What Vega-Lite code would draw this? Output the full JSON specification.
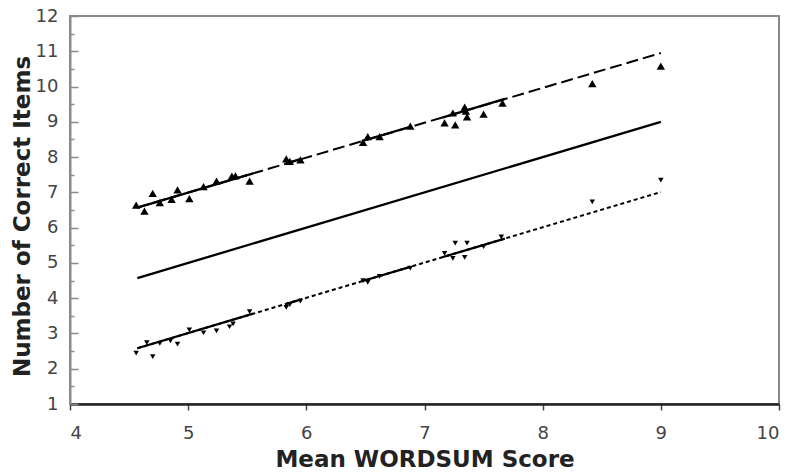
{
  "$schema": "https://vega.github.io/schema/vega-lite/v6.json",
  "width": 709,
  "height": 388,
  "autosize": {"type": "none"},
  "padding": {"left": 70, "top": 16, "right": 9, "bottom": 69},
  "background": "white",
  "config": {
    "view": {"stroke": "#8a8a8a", "strokeWidth": 2},
    "axis": {"labelFont": "DejaVu Sans", "titleFont": "DejaVu Sans", "grid": false}
  },
  "datasets": {
    "lines": [
      {"line": "upper", "part": "full", "seg": "uf", "x": 4.57, "y": 6.57},
      {"line": "upper", "part": "full", "seg": "uf", "x": 9.0, "y": 10.95},
      {"line": "lower", "part": "full", "seg": "lf", "x": 4.57, "y": 2.58},
      {"line": "lower", "part": "full", "seg": "lf", "x": 9.0, "y": 7.01},
      {"line": "middle", "part": "span", "seg": "m", "x": 4.57, "y": 4.57},
      {"line": "middle", "part": "span", "seg": "m", "x": 9.0, "y": 9.0},
      {"line": "upper", "part": "span", "seg": "u1", "x": 4.57, "y": 6.57},
      {"line": "upper", "part": "span", "seg": "u1", "x": 5.55, "y": 7.54},
      {"line": "upper", "part": "span", "seg": "u2", "x": 5.83, "y": 7.82},
      {"line": "upper", "part": "span", "seg": "u2", "x": 5.95, "y": 7.94},
      {"line": "upper", "part": "span", "seg": "u3", "x": 6.47, "y": 8.45},
      {"line": "upper", "part": "span", "seg": "u3", "x": 6.88, "y": 8.86},
      {"line": "upper", "part": "span", "seg": "u4", "x": 7.15, "y": 9.12},
      {"line": "upper", "part": "span", "seg": "u4", "x": 7.68, "y": 9.65},
      {"line": "lower", "part": "span", "seg": "l1", "x": 4.57, "y": 2.58},
      {"line": "lower", "part": "span", "seg": "l1", "x": 5.55, "y": 3.56},
      {"line": "lower", "part": "span", "seg": "l2", "x": 5.83, "y": 3.84},
      {"line": "lower", "part": "span", "seg": "l2", "x": 5.95, "y": 3.96},
      {"line": "lower", "part": "span", "seg": "l3", "x": 6.47, "y": 4.48},
      {"line": "lower", "part": "span", "seg": "l3", "x": 6.88, "y": 4.89},
      {"line": "lower", "part": "span", "seg": "l4", "x": 7.15, "y": 5.16},
      {"line": "lower", "part": "span", "seg": "l4", "x": 7.68, "y": 5.69}
    ],
    "points": [
      {"group": "upper", "x": 4.56, "y": 6.64},
      {"group": "upper", "x": 4.63, "y": 6.47},
      {"group": "upper", "x": 4.70, "y": 6.97},
      {"group": "upper", "x": 4.76, "y": 6.71},
      {"group": "upper", "x": 4.86, "y": 6.80},
      {"group": "upper", "x": 4.91, "y": 7.07},
      {"group": "upper", "x": 5.01, "y": 6.82},
      {"group": "upper", "x": 5.13, "y": 7.16},
      {"group": "upper", "x": 5.24, "y": 7.32},
      {"group": "upper", "x": 5.37, "y": 7.46},
      {"group": "upper", "x": 5.40, "y": 7.47},
      {"group": "upper", "x": 5.52, "y": 7.32},
      {"group": "upper", "x": 5.83, "y": 7.95},
      {"group": "upper", "x": 5.86, "y": 7.88},
      {"group": "upper", "x": 5.95, "y": 7.92},
      {"group": "upper", "x": 6.48, "y": 8.42},
      {"group": "upper", "x": 6.52, "y": 8.58},
      {"group": "upper", "x": 6.62, "y": 8.58},
      {"group": "upper", "x": 6.88, "y": 8.88},
      {"group": "upper", "x": 7.17, "y": 8.97},
      {"group": "upper", "x": 7.24, "y": 9.25},
      {"group": "upper", "x": 7.26, "y": 8.91},
      {"group": "upper", "x": 7.34, "y": 9.42},
      {"group": "upper", "x": 7.36, "y": 9.14},
      {"group": "upper", "x": 7.35, "y": 9.30},
      {"group": "upper", "x": 7.50, "y": 9.22},
      {"group": "upper", "x": 7.66, "y": 9.53},
      {"group": "upper", "x": 8.42, "y": 10.08},
      {"group": "upper", "x": 9.00, "y": 10.58},
      {"group": "lower", "x": 4.56, "y": 2.44},
      {"group": "lower", "x": 4.65, "y": 2.74},
      {"group": "lower", "x": 4.70, "y": 2.34},
      {"group": "lower", "x": 4.76, "y": 2.72},
      {"group": "lower", "x": 4.85, "y": 2.79},
      {"group": "lower", "x": 4.91, "y": 2.70},
      {"group": "lower", "x": 5.01, "y": 3.10},
      {"group": "lower", "x": 5.13, "y": 3.02},
      {"group": "lower", "x": 5.24, "y": 3.07},
      {"group": "lower", "x": 5.35, "y": 3.19},
      {"group": "lower", "x": 5.38, "y": 3.27},
      {"group": "lower", "x": 5.52, "y": 3.62},
      {"group": "lower", "x": 5.83, "y": 3.74},
      {"group": "lower", "x": 5.86, "y": 3.82},
      {"group": "lower", "x": 5.95, "y": 3.92},
      {"group": "lower", "x": 6.48, "y": 4.50},
      {"group": "lower", "x": 6.52, "y": 4.45},
      {"group": "lower", "x": 6.62, "y": 4.62},
      {"group": "lower", "x": 6.88, "y": 4.85},
      {"group": "lower", "x": 7.17, "y": 5.27},
      {"group": "lower", "x": 7.24, "y": 5.13},
      {"group": "lower", "x": 7.26, "y": 5.56},
      {"group": "lower", "x": 7.34, "y": 5.16},
      {"group": "lower", "x": 7.36, "y": 5.56},
      {"group": "lower", "x": 7.50, "y": 5.46},
      {"group": "lower", "x": 7.65, "y": 5.74},
      {"group": "lower", "x": 8.42, "y": 6.73},
      {"group": "lower", "x": 9.00, "y": 7.35}
    ]
  },
  "resolve": {"axis": {"y": "independent"}},
  "layer": [
    {
      "data": {"name": "lines"},
      "transform": [{"filter": "datum.line === 'upper' && datum.part === 'full'"}],
      "mark": {"type": "line", "color": "black", "strokeWidth": 2, "strokeDash": [12, 5]},
      "encoding": {
        "x": {
          "field": "x", "type": "quantitative",
          "scale": {"domain": [4, 10], "nice": false, "zero": false},
          "axis": {
            "title": "Mean WORDSUM Score", "values": [4, 5, 6, 7, 8, 9, 10],
            "format": "d", "domainColor": "#222", "domainWidth": 2.5,
            "tickColor": "#444", "tickWidth": 1.5, "tickSize": 6,
            "labelFontSize": 18, "labelColor": "#444", "labelPadding": 14,
            "titleFontSize": 23, "titleFontWeight": "bold", "titleColor": "#222",
            "titlePadding": 6
          }
        },
        "y": {
          "field": "y", "type": "quantitative",
          "scale": {"domain": [1, 12], "nice": false, "zero": false},
          "axis": {
            "title": "Number of Correct Items", "orient": "left",
            "values": [1, 2, 3, 4, 5, 6, 7, 8, 9, 10, 11, 12], "format": "d",
            "domainColor": "#8a8a8a", "domainWidth": 2,
            "tickColor": "#8a8a8a", "tickWidth": 1.5, "tickSize": -8,
            "labelFontSize": 18, "labelColor": "#444", "labelPadding": 20,
            "titleFontSize": 23, "titleFontWeight": "bold", "titleColor": "#222",
            "titleX": -48, "titleY": 200, "titleAngle": -90,
            "titleAlign": "center", "titleBaseline": "middle"
          }
        }
      }
    },
    {
      "data": {"name": "lines"},
      "transform": [{"filter": "datum.line === 'lower' && datum.part === 'full'"}],
      "mark": {"type": "line", "color": "black", "strokeWidth": 2, "strokeDash": [4, 3]},
      "encoding": {
        "x": {"field": "x", "type": "quantitative"},
        "y": {
          "field": "y", "type": "quantitative",
          "axis": {
            "orient": "left", "title": null, "labels": false, "domain": false,
            "values": [1.5, 2.5, 3.5, 4.5, 5.5, 6.5, 7.5, 8.5, 9.5, 10.5, 11.5],
            "tickColor": "#8a8a8a", "tickWidth": 1.5, "tickSize": -4
          }
        }
      }
    },
    {
      "data": {"name": "lines"},
      "transform": [{"filter": "datum.part === 'span'"}],
      "mark": {"type": "line", "color": "black", "strokeWidth": 2.3},
      "encoding": {
        "x": {"field": "x", "type": "quantitative"},
        "y": {"field": "y", "type": "quantitative", "axis": null},
        "detail": {"field": "seg"}
      }
    },
    {
      "data": {"name": "points"},
      "transform": [{"filter": "datum.group === 'upper'"}],
      "mark": {"type": "point", "shape": "triangle-up", "filled": true, "color": "black", "opacity": 1, "size": 70},
      "encoding": {
        "x": {"field": "x", "type": "quantitative"},
        "y": {"field": "y", "type": "quantitative", "axis": null}
      }
    },
    {
      "data": {"name": "points"},
      "transform": [{"filter": "datum.group === 'lower'"}],
      "mark": {"type": "point", "shape": "triangle-down", "filled": true, "color": "black", "opacity": 1, "size": 30},
      "encoding": {
        "x": {"field": "x", "type": "quantitative"},
        "y": {"field": "y", "type": "quantitative", "axis": null}
      }
    }
  ]
}
